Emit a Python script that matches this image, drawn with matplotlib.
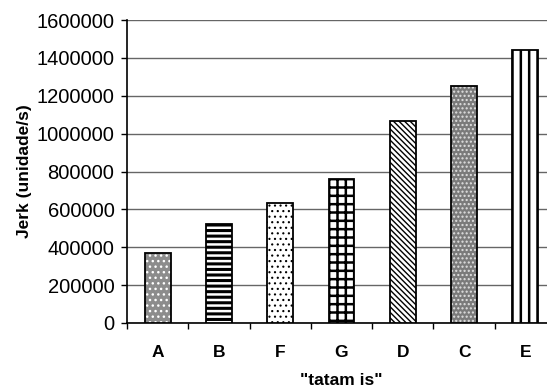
import matplotlib
matplotlib.use("Agg")
import matplotlib.pyplot as plt
from matplotlib.ticker import FuncFormatter
import numpy as np

# Valores de jerk por tatami (ordenados)
categorias = ["A", "B", "F", "G", "D", "C", "E"]
jerk = [371000, 521000, 632000, 762000, 1068000, 1251000, 1443000]

# Preenchimento de cada barra: (cor de fundo, hachura, cor da hachura, espessura)
estilos = [
    ("#8c8c8c", "...", "white", 1.0),
    ("white", "---", "black", 2.2),
    ("white", "...", "black", 0.8),
    ("white", "++", "black", 1.8),
    ("white", "\\\\\\\\\\\\", "black", 1.0),
    ("#7a7a7a", "....", "#e0e0e0", 1.0),
    ("white", "||", "black", 1.8),
]

plt.rcParams["font.family"] = ["Liberation Sans", "DejaVu Sans"]

fig = plt.figure(figsize=(5.47, 3.89), dpi=100)
ax = fig.add_axes([127 / 547, 66 / 389, 429 / 547, 303 / 389])

x = np.arange(len(categorias))
largura = 0.42

for xi, v, (fc, hatch, hc, hlw) in zip(x, jerk, estilos):
    # camada da hachura (sem contorno)
    b = ax.bar(xi, v, width=largura, color=fc, edgecolor=hc, hatch=hatch,
               linewidth=0, zorder=3)
    for p in b:
        if hasattr(p, "set_hatch_linewidth"):
            p.set_hatch_linewidth(hlw)
    # contorno preto
    ax.bar(xi, v, width=largura, fill=False, edgecolor="black",
           linewidth=1.3, zorder=4)

ax.set_xlim(-0.5, len(categorias) - 0.5)
ax.set_ylim(0, 1600000)
ax.set_yticks(np.arange(0, 1600001, 200000))
ax.yaxis.set_major_formatter(FuncFormatter(lambda v, _: f"{int(v)}"))
ax.yaxis.grid(True, color="#666666", linewidth=1.0, zorder=0)
ax.set_axisbelow(True)

ax.set_xticks(x)
ax.set_xticklabels(categorias, fontweight="bold", fontsize=12.5)
ax.set_xticks(np.arange(-0.5, len(categorias), 1.0), minor=True)
ax.tick_params(axis="x", which="major", length=0, pad=16)
ax.tick_params(axis="x", which="minor", length=4, width=1, direction="out")
ax.tick_params(axis="y", length=4, width=1, pad=5, labelsize=14.5)

for s in ["top", "right"]:
    ax.spines[s].set_visible(False)
ax.spines["left"].set_linewidth(1.2)
ax.spines["bottom"].set_linewidth(1.2)

ax.set_ylabel("Jerk (unidade/s)", fontweight="bold", fontsize=12.5)
ax.yaxis.set_label_coords(-95 / 429, 0.5)
ax.set_xlabel('"tatam is"', fontweight="bold", fontsize=12.5)
ax.xaxis.set_label_coords(0.5, -50 / 303)

fig.savefig("out.png", dpi=100)
